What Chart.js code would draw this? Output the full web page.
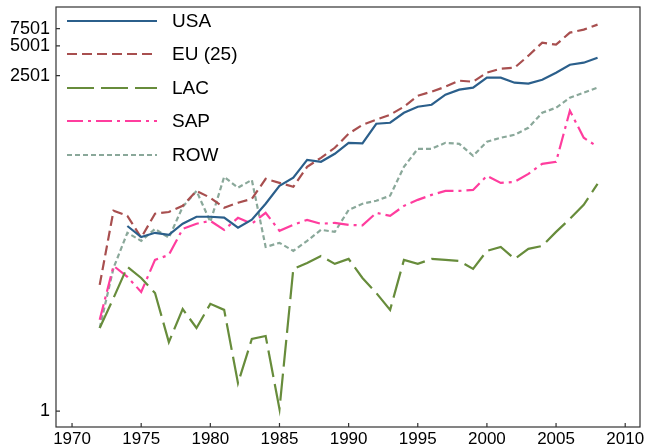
<!DOCTYPE html>
<html><head><meta charset="utf-8">
<script src="https://cdn.jsdelivr.net/npm/chart.js@4"></script>
<style>html,body{margin:0;padding:0;background:#fff}</style>
</head><body>
<canvas id="c" width="649" height="448" style="width:649px;height:448px;display:block"></canvas>
<script>
const years = [1972,1973,1974,1975,1976,1977,1978,1979,1980,1981,1982,1983,1984,1985,1986,1987,1988,1989,1990,
  1991,1992,1993,1994,1995,1996,1997,1998,1999,2000,2001,2002,2003,2004,2005,2006,2007,2008];
const usa = [null,null,75,58,64,61,79,93,93,91,72,87,126,191,231,351,335,404,522,
  515,814,834,1052,1211,1269,1603,1802,1888,2384,2384,2122,2080,2275,2680,3229,3383,3803];
const eu25 = [19,107,95,57,100,104,120,170,145,115,129,141,225,205,187,298,368,465,645,
  795,894,1005,1211,1566,1719,1932,2223,2170,2680,2943,3010,3984,5400,5150,6820,7310,8220];
const lac = [6.95,14,28.9,22.3,15.7,5.0,10.8,6.95,12.2,10.6,1.92,5.37,5.76,1.05,27.6,31.7,37.3,31,34.8,
  22.3,15.7,10.6,34,31,34.8,34,33.2,27.6,42,46,34.8,44,47.1,65.4,88.6,123,200];
const sap = [8.4,29.6,22.9,16.1,34,38.2,70,79,84.5,68.5,90.7,79,102,67,77,86.5,79,80.7,77,
  76,102,95,120,138,155,170,170,174,242,205,210,253,320,335,1104,587,476];
const row = [6.95,28.2,64,53,70,57,117,170,82.6,236,183,220,46,50.6,42,53,68.5,65.4,109,
  126,135,152,298,454,454,522,510,386,535,587,630,741,1052,1183,1494,1680,1888];
const seriesNames = ['USA','EU (25)','LAC','SAP','ROW'];
const xTicks = [1970,1975,1980,1985,1990,1995,2000,2005,2010];
const yTicks = [1,2501,5001,7501];

const styles = [
  {color:'#2b5f8b', dash:[]},
  {color:'#a84f4f', dash:[10,5]},
  {color:'#678c3b', dash:[27,7]},
  {color:'#ff3d9e', dash:[16,5,3,5]},
  {color:'#8aa89a', dash:[5,3]}
];
const seriesData = [usa, eu25, lac, sap, row];
const FONT = "'Liberation Sans', Arial, Helvetica, sans-serif";

const datasets = seriesData.map((arr,i)=>({
  label: seriesNames[i],
  data: years.map((yr,j)=>({x:yr, y:arr[j]})),
  borderColor: styles[i].color,
  borderDash: styles[i].dash,
  borderWidth: 2.2,
  pointRadius: 0,
  tension: 0,
  fill: false,
  spanGaps: false
}));

const framePlugin = {
  id:'frame',
  afterDatasetsDraw(chart){
    const ctx = chart.ctx, a = chart.chartArea;
    ctx.save();
    ctx.strokeStyle = '#333';
    ctx.lineWidth = 1.2;
    ctx.setLineDash([]);
    ctx.strokeRect(a.left, a.top, a.right-a.left, a.bottom-a.top);
    const xs = chart.scales.x, ys = chart.scales.y;
    ctx.beginPath();
    xTicks.forEach(t=>{const px = xs.getPixelForValue(t); ctx.moveTo(px, a.bottom); ctx.lineTo(px, a.bottom-4);});
    yTicks.forEach(t=>{const py = ys.getPixelForValue(t); ctx.moveTo(a.left, py); ctx.lineTo(a.left+4, py);});
    ctx.stroke();
    ctx.restore();
  },
  afterDraw(chart){
    const ctx = chart.ctx;
    const rows = [21,54,88,121,155];
    ctx.save();
    chart.data.datasets.forEach((ds,i)=>{
      ctx.beginPath();
      ctx.strokeStyle = ds.borderColor;
      ctx.lineWidth = ds.borderWidth;
      ctx.setLineDash(ds.borderDash);
      ctx.moveTo(67, rows[i]); ctx.lineTo(157, rows[i]);
      ctx.stroke();
      ctx.setLineDash([]);
      ctx.fillStyle = '#000';
      ctx.font = '19px ' + FONT;
      ctx.textBaseline = 'middle';
      ctx.textAlign = 'left';
      ctx.fillText(ds.label, 172, rows[i]+1);
    });
    ctx.restore();
  }
};

function zeroPad(s){ s.paddingTop = 0; s.paddingBottom = 0; s.paddingLeft = 0; s.paddingRight = 0; }

new Chart(document.getElementById('c'), {
  type:'line',
  data:{datasets},
  options:{
    responsive:false,
    animation:false,
    devicePixelRatio:1,
    layout:{padding:{left:0,right:9,top:7,bottom:0}},
    plugins:{legend:{display:false}, tooltip:{enabled:false}},
    scales:{
      x:{
        type:'linear', min:1968.84, max:2011.07,
        afterBuildTicks(s){ s.ticks = xTicks.map(v=>({value:v})); },
        afterFit(s){ s.height = 21; zeroPad(s); },
        grid:{display:false, drawTicks:false},
        border:{display:false},
        ticks:{color:'#000', padding:2, maxRotation:0, autoSkip:false, font:{family:FONT, size:17},
          callback:(v)=>String(v)}
      },
      y:{
        type:'logarithmic', min:0.69, max:12400,
        afterBuildTicks(s){ s.ticks = yTicks.map(v=>({value:v})); },
        afterFit(s){ s.width = 56; zeroPad(s); },
        grid:{display:false, drawTicks:false},
        border:{display:false},
        ticks:{color:'#000', padding:6, autoSkip:false, font:{family:FONT, size:18},
          callback:(v)=>String(v)}
      }
    }
  },
  plugins:[framePlugin]
});
</script>
</body></html>
